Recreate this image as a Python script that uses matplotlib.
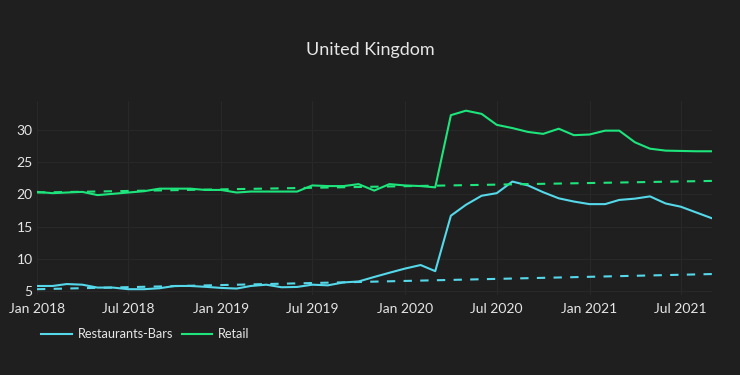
import matplotlib
matplotlib.use("Agg")
import matplotlib.pyplot as plt
import matplotlib.dates as mdates
import numpy as np
import pandas as pd

plt.rcParams['font.family'] = ['Lato', 'DejaVu Sans']

dates = pd.date_range("2018-01-01", "2021-09-01", freq="MS")

restaurants = [5.8, 5.8, 6.1, 6.0, 5.55, 5.55, 5.3, 5.3, 5.45, 5.8, 5.8, 5.67,
               5.5, 5.4, 5.8, 6.0, 5.6, 5.65, 6.0, 5.9, 6.35, 6.5, 7.2, 7.85,
               8.5, 9.05, 8.1, 16.7, 18.4, 19.8, 20.2, 22.0, 21.4, 20.35, 19.4, 18.9,
               18.5, 18.5, 19.15, 19.35, 19.7, 18.6, 18.1, 17.2, 16.3]
retail = [20.4, 20.2, 20.3, 20.4, 19.9, 20.1, 20.3, 20.5, 20.9, 20.9, 20.9, 20.7,
          20.7, 20.3, 20.45, 20.45, 20.45, 20.45, 21.4, 21.3, 21.3, 21.6, 20.6, 21.6,
          21.4, 21.3, 21.1, 32.3, 33.0, 32.5, 30.8, 30.3, 29.7, 29.4, 30.2, 29.2,
          29.3, 29.9, 29.9, 28.1, 27.1, 26.8, 26.75, 26.7, 26.7]

trend_dates = [dates[0], dates[-1]]
restaurants_trend = [5.3, 7.65]
retail_trend = [20.3, 22.1]

series_names = ["Restaurants-Bars", "Retail"]
y_ticks = [5, 10, 15, 20, 25, 30]

bg = "#1f1f1f"
grid_c = "#282828"
text_c = "#e6e6e6"
cyan = "#55d8ea"
green = "#1de57c"

fig = plt.figure(figsize=(7.4, 3.75), dpi=100, facecolor=bg)
ax = fig.add_axes([37/740, 1-295/375, (712-37)/740, (295-101)/375])
ax.set_facecolor(bg)

l1, = ax.plot(dates, restaurants, color=cyan, lw=1.5, label=series_names[0])
l2, = ax.plot(dates, retail, color=green, lw=1.5, label=series_names[1])
ax.plot(trend_dates, restaurants_trend, color=cyan, lw=1.5, dashes=(4, 4))
ax.plot(trend_dates, retail_trend, color=green, lw=1.5, dashes=(4, 4))

ax.set_xlim(dates[0], dates[-1])
ax.set_ylim(4.4, 34.5)
ax.set_yticks(y_ticks)
ax.xaxis.set_major_locator(mdates.MonthLocator(bymonth=[1, 7]))
ax.xaxis.set_major_formatter(mdates.DateFormatter("%b %Y"))
ax.grid(True, color=grid_c, lw=0.8)
ax.set_axisbelow(True)
for s in ax.spines.values():
    s.set_visible(False)
ax.tick_params(axis='both', length=0, colors=text_c, labelsize=10)
ax.tick_params(axis='y', pad=3)
ax.tick_params(axis='x', pad=6)

fig.text(0.5, 1-50/375, "United Kingdom", ha='center', va='center',
         color=text_c, fontsize=13)

leg = fig.legend(handles=[l1, l2], loc='center left', bbox_to_anchor=(41/740, 1-334/375),
                 ncol=2, frameon=False, fontsize=9.2, handlelength=2.4,
                 columnspacing=0.7, handletextpad=0.45, borderaxespad=0, borderpad=0)
for t in leg.get_texts():
    t.set_color(text_c)

fig.savefig("out.png", dpi=100, facecolor=bg)
